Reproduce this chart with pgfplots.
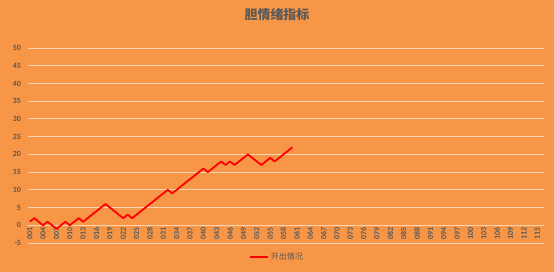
\documentclass[border=0pt]{standalone}
\usepackage{pgfplots}
\pgfplotsset{compat=1.18}
\usepackage{pgfplotstable}
\usepackage{fontspec}
\setmainfont{Carlito}
\newfontfamily\cjk{Noto Sans CJK SC}
\definecolor{bg}{HTML}{F79646}
\definecolor{txt}{HTML}{595959}
\colorlet{gridc}{white!60!bg}

\pgfplotstableread{
x y
1 1
2 2
3 1
4 0
5 1
6 0
7 -1
8 0
9 1
10 0
11 1
12 2
13 1
14 2
15 3
16 4
17 5
18 6
19 5
20 4
21 3
22 2
23 3
24 2
25 3
26 4
27 5
28 6
29 7
30 8
31 9
32 10
33 9
34 10
35 11
36 12
37 13
38 14
39 15
40 16
41 15
42 16
43 17
44 18
45 17
46 18
47 17
48 18
49 19
50 20
51 19
52 18
53 17
54 18
55 19
56 18
57 19
58 20
59 21
60 22
}\data

\begin{document}
\begin{tikzpicture}
\useasboundingbox[fill=bg] (0,0) rectangle (554bp,272bp);
\begin{axis}[
  at={(27.5bp,29bp)}, anchor=south west,
  scale only axis, width=516.5bp, height=195bp,
  xmin=0.5, xmax=116.5, ymin=-5, ymax=50,
  axis x line*=middle, axis y line*=left,
  axis line style={draw=none},
  tick style={draw=none},
  /pgf/number format/assume math mode=true,
  ytick={-5,0,...,50},
  ymajorgrids,
  major grid style={gridc, line width=0.9pt},
  xtick={1,4,...,115},
  xticklabels={001,004,007,010,013,016,019,022,025,028,031,034,037,040,043,046,049,052,055,058,061,064,067,070,073,076,079,082,085,088,091,094,097,100,103,106,109,112,115},
  xticklabel style={rotate=90, anchor=east, font=\bfseries\fontsize{8}{9}\selectfont, text=txt, inner sep=1.5bp},
  yticklabel style={font=\bfseries\fontsize{8}{9}\selectfont, text=txt, xshift=-3bp},
  legend style={at={(0.483,-0.072)}, anchor=center, draw=none, fill=none, font=\cjk\fontsize{8}{9}\selectfont, text=txt},
  legend image code/.code={\draw[#1] (0bp,0bp) -- (18bp,0bp);},
  clip=false,
]
\addplot[red, line width=1.8pt, line join=round] table[x=x, y=y] {\data};
\addlegendentry{开出情况}
\end{axis}
\node[text=txt, font=\cjk\bfseries\fontsize{13}{15}\selectfont] at (277bp,257bp) {胆情绪指标};
\end{tikzpicture}
\end{document}
